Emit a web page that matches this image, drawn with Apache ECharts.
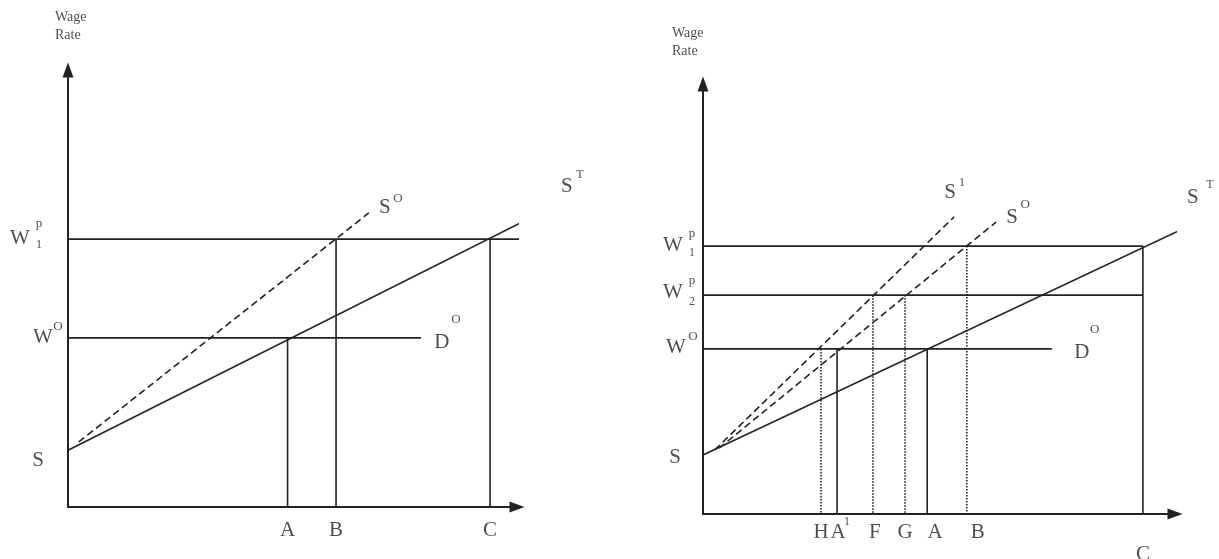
<!DOCTYPE html>
<html>
<head>
<meta charset="utf-8">
<title>Wage rate diagrams</title>
<script src="https://cdn.jsdelivr.net/npm/echarts@6/dist/echarts.min.js"></script>
<style>
    html, body { margin: 0; padding: 0; background: #fff; }
    #chart { width: 1219px; height: 559px; }
</style>
</head>
<body>
<div id="chart"></div>
<script>
// left panel: wage levels S, W0, W1p and quantities A, B, C
const leftWage = [13.0, 38.7, 61.3];
const leftQtyNames = ['A', 'B', 'C'];
const leftQty = [48.9, 59.7, 94.0];
const leftQtyTop = [1, 2, 2];              // which wage level each drop line starts from
const leftSupplyT = [[0, 13.0], [110, 69.8]];
const leftSupplyO = [[2.4, 14.9], [67, 67.3]];
const leftDemandEnd = 78.6;
const leftPriceEnd = 103.8;

// right panel: wage levels S, W0, W2p, W1p and quantities H, A1, F, G, A, B, C
const rightWage = [13.7, 38.4, 50.9, 62.3];
const rightQtyNames = ['H', 'A1', 'F', 'G', 'A', 'B', 'C'];
const rightQty = [25.0, 28.4, 36.0, 42.8, 47.5, 55.9, 93.2];
const rightQtyTop = [1, 1, 2, 2, 1, 3, 3];
const rightSupplyT = [[0, 13.7], [107.8, 69.5]];
const rightSupplyO = [[3.4, 15.3], [62.1, 67.9]];
const rightSupply1 = [[2.5, 14.9], [53.2, 69.1]];
const rightDemandEnd = 73.9;

const ink = '#222222';
const font = "'Liberation Serif', 'Times New Roman', serif";
const dashed = [7, 4];
const dotted = [1.5, 1.5];

const seg = function (gi, pts, type) {
    return {
        type: 'line', xAxisIndex: gi, yAxisIndex: gi,
        data: pts, symbol: 'none', clip: false, silent: true,
        lineStyle: { color: ink, width: 1.6, type: type || 'solid' }
    };
};

const txt = function (v, text, dx, dy, size, align) {
    return {
        value: v,
        label: { formatter: text, offset: [dx, dy], fontSize: size || 21, align: align || 'center' }
    };
};

const labels = function (gi, items) {
    return {
        type: 'scatter', xAxisIndex: gi, yAxisIndex: gi,
        symbolSize: 0, clip: false, silent: true, data: items,
        label: { show: true, position: 'inside', color: ink, fontFamily: font, lineHeight: 18 }
    };
};

const axis = function (gi) {
    return {
        type: 'value', gridIndex: gi, min: 0, max: 100,
        axisLine: {
            show: true, onZero: false,
            symbol: ['none', 'triangle'], symbolSize: [11, 15],
            lineStyle: { color: ink, width: 2 }
        },
        axisTick: { show: false },
        axisLabel: { show: false },
        splitLine: { show: false }
    };
};

let series = [];

// ---- left panel ----
series.push(seg(0, leftSupplyT));
series.push(seg(0, leftSupplyO, dashed));
series.push(seg(0, [[0, leftWage[2]], [leftPriceEnd, leftWage[2]]]));
series.push(seg(0, [[0, leftWage[1]], [leftDemandEnd, leftWage[1]]]));
leftQty.forEach((q, i) => {
    series.push(seg(0, [[q, leftWage[leftQtyTop[i]]], [q, 0]]));
});

let leftText = [
    txt([0, 100], 'Wage\nRate', -13, -44, 14, 'left'),
    txt([0, leftWage[0]], 'S', -30, 10),
    txt([0, leftWage[1]], 'W', -25, 0),
    txt([0, leftWage[1]], 'O', -10, -11, 13),
    txt([0, leftWage[2]], 'W', -48, -1),
    txt([0, leftWage[2]], 'p', -29, -16, 13),
    txt([0, leftWage[2]], '1', -29, 6, 12),
    txt(leftSupplyO[1], 'S', 16, -5),
    txt(leftSupplyO[1], 'O', 29, -14, 13),
    txt(leftSupplyT[1], 'S', 5, -15),
    txt(leftSupplyT[1], 'T', 18, -27, 12),
    txt([leftDemandEnd, leftWage[1]], 'D', 21, 5),
    txt([leftDemandEnd, leftWage[1]], 'O', 35, -18, 13)
];
leftQty.forEach((q, i) => {
    leftText.push(txt([q, 0], leftQtyNames[i], 0, 23));
});
series.push(labels(0, leftText));

// ---- right panel ----
const dottedDrops = ['H', 'F', 'G', 'B'];
series.push(seg(1, rightSupplyT));
series.push(seg(1, rightSupplyO, dashed));
series.push(seg(1, rightSupply1, dashed));
const cQty = rightQty[rightQtyNames.indexOf('C')];
series.push(seg(1, [[0, rightWage[3]], [cQty, rightWage[3]]]));
series.push(seg(1, [[0, rightWage[2]], [cQty, rightWage[2]]]));
series.push(seg(1, [[0, rightWage[1]], [rightDemandEnd, rightWage[1]]]));
rightQty.forEach((q, i) => {
    let style = dottedDrops.indexOf(rightQtyNames[i]) >= 0 ? dotted : 'solid';
    series.push(seg(1, [[q, rightWage[rightQtyTop[i]]], [q, 0]], style));
});

// small shifts of the printed letters under the axis
const tickDx = { H: 0, A1: 1, F: 2, G: 0, A: 8, B: 11, C: 0 };
let rightText = [
    txt([0, 100], 'Wage\nRate', -31, -42, 14, 'left'),
    txt([0, rightWage[0]], 'S', -28, 2),
    txt([0, rightWage[1]], 'W', -27, -1),
    txt([0, rightWage[1]], 'O', -10, -12, 13),
    txt([0, rightWage[2]], 'W', -30, -3),
    txt([0, rightWage[2]], 'p', -11, -15, 13),
    txt([0, rightWage[2]], '2', -11, 7, 12),
    txt([0, rightWage[3]], 'W', -30, -1),
    txt([0, rightWage[3]], 'p', -11, -13, 13),
    txt([0, rightWage[3]], '1', -11, 7, 12),
    txt(rightSupply1[1], 'S', -4, -24),
    txt(rightSupply1[1], '1', 8, -34, 12),
    txt(rightSupplyO[1], 'S', 16, -5),
    txt(rightSupplyO[1], 'O', 29, -17, 13),
    txt(rightSupplyT[1], 'S', -19, -18),
    txt(rightSupplyT[1], 'T', -2, -30, 12),
    txt([rightDemandEnd, rightWage[1]], 'D', 30, 4),
    txt([rightDemandEnd, rightWage[1]], 'O', 43, -19, 13)
];
rightQty.forEach((q, i) => {
    let name = rightQtyNames[i];
    let dy = name == 'C' ? 40 : 18;
    rightText.push(txt([q, 0], name.charAt(0), tickDx[name], dy));
    if (name == 'A1') {
        rightText.push(txt([q, 0], '1', 10, 8, 12));
    }
});
series.push(labels(1, rightText));

let myChart = echarts.init(document.getElementById('chart'));
myChart.setOption({
    backgroundColor: '#ffffff',
    animation: false,
    textStyle: { fontFamily: font },
    grid: [
        { left: 68, top: 70, width: 449, height: 437 },
        { left: 703, top: 84, width: 472, height: 430 }
    ],
    xAxis: [axis(0), axis(1)],
    yAxis: [axis(0), axis(1)],
    series: series
});
</script>
</body>
</html>
